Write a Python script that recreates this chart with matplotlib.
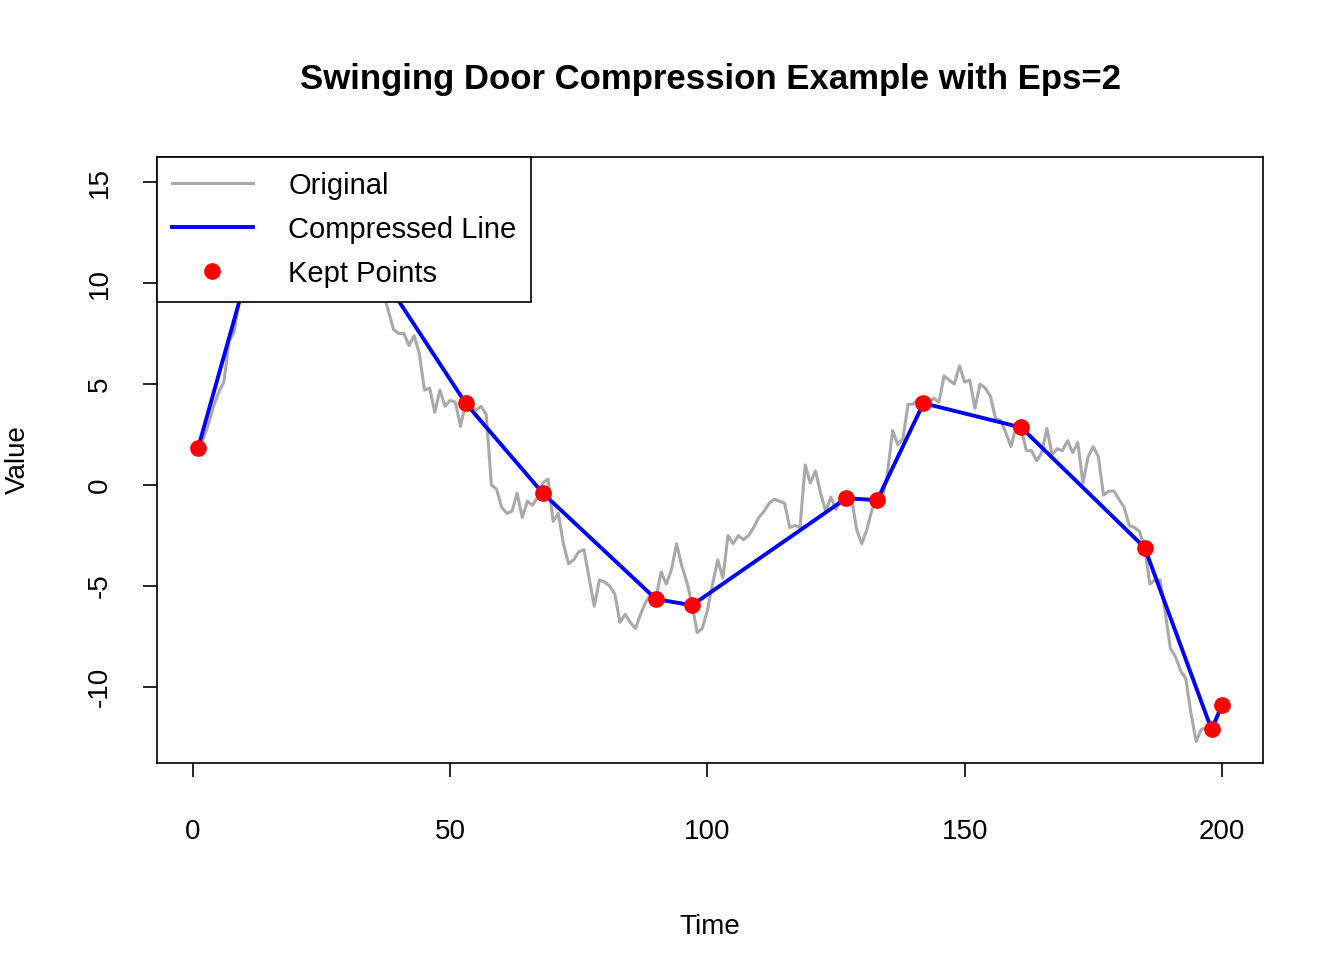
import matplotlib
matplotlib.use('Agg')
import matplotlib.pyplot as plt
import numpy as np

plt.rcParams['font.family'] = ['Liberation Sans', 'DejaVu Sans']
plt.rcParams['axes.unicode_minus'] = False

time = np.arange(1, 201)
original = [
    1.85, 2.3, 3.0, 3.9, 4.6, 5.1, 7.1, 7.6, 9.2,
    10.0, 10.9, 11.8, 12.3, 12.8, 13.2, 13.5, 13.9, 14.2, 14.0,
    14.3, 13.8, 14.1, 13.6, 13.9, 13.4, 13.6, 13.2, 13.5, 13.1,
    13.0, 12.6, 12.2, 11.8, 11.3, 10.8, 10.2, 9.5, 8.6,
    7.7, 7.5, 7.5, 6.9, 7.4, 6.5, 4.7, 4.8, 3.6, 4.7, 3.9, 4.2, 4.1, 2.9,
    4.1, 4.0, 3.7, 3.9, 3.5, 0.0, -0.2, -1.1, -1.4, -1.3, -0.4, -1.6, -0.8,
    -1.0, -0.6, 0.1, 0.3, -1.8, -1.4, -2.9, -3.9, -3.7, -3.3, -3.2, -4.6,
    -6.0, -4.7, -4.8, -5.0, -5.4, -6.8, -6.4, -6.8, -7.1, -6.4, -5.8, -5.4,
    -5.6, -4.3, -4.9, -4.2, -2.9, -4.0, -4.8, -5.9, -7.3, -7.1, -6.2, -4.9,
    -3.7, -4.6, -2.5, -2.9, -2.5, -2.7, -2.5, -2.1, -1.6, -1.3, -0.9, -0.7,
    -0.8, -0.9, -2.1, -2.0, -2.1, 1.0, 0.1, 0.7, -0.4, -1.3, -0.6, -1.2,
    -0.6, -0.6, -0.6, -2.2, -2.9, -2.2, -1.2, -0.8, -0.7, 0.6, 2.7, 2.0,
    2.3, 4.0, 4.0, 4.3, 4.1, 4.1, 4.3, 4.1, 5.4, 5.2, 5.0, 5.9, 5.1, 5.2,
    3.8, 5.0, 4.8, 4.4, 3.3, 3.2, 2.6, 1.9, 2.9, 2.8, 1.7, 1.7, 1.2, 1.6,
    2.8, 1.5, 1.8, 1.7, 2.2, 1.6, 2.1, 0.1, 1.4, 1.9, 1.4, -0.5, -0.3,
    -0.3, -0.7, -1.1, -2.0, -2.1, -2.3, -3.1, -4.9, -4.7, -4.7, -6.3, -8.1,
    -8.5, -9.2, -9.6, -11.3, -12.7, -12.1, -12.0, -12.1, -11.6, -10.9,
]
kept_t = [1, 12, 30, 53, 68, 90, 97, 127, 133, 142, 161, 185, 198, 200]
kept_v = [1.85, 11.8, 13.0, 4.05, -0.4, -5.65, -5.95, -0.65, -0.75, 4.05,
          2.85, -3.1, -12.1, -10.9]

fig = plt.figure(figsize=(13.44, 9.6), dpi=100)
ax = fig.add_axes([157 / 1344, 1 - 763 / 960, 1106 / 1344, 606 / 960])

ax.plot(time, original, color='#a9a9a9', lw=2.2, label='Original')
ax.plot(kept_t, kept_v, color='#0000ff', lw=2.8, label='Compressed Line')
ax.plot(kept_t, kept_v, 'o', color='#ff0000', ms=11, ls='none',
        label='Kept Points')

ax.set_xlim(-7.0, 208.0)
ax.set_ylim(-13.76, 16.24)
ax.set_xticks([0, 50, 100, 150, 200])
ax.set_yticks([-10, -5, 0, 5, 10, 15])
ax.tick_params(labelsize=20, length=10, width=1.2)
ax.tick_params(axis='x', pad=30)
ax.tick_params(axis='y', pad=22)
for lab in ax.get_yticklabels():
    lab.set_rotation(90)
    lab.set_va('center')
for s in ax.spines.values():
    s.set_linewidth(1.2)

ax.set_xlabel('Time', fontsize=20, labelpad=50)
ax.set_ylabel('Value', fontsize=20, labelpad=40)
fig.suptitle('Swinging Door Compression Example with Eps=2', fontsize=25,
             fontweight='bold', x=(157 + 1263) / 2 / 1344, y=1 - 80 / 960,
             va='center')

leg = ax.legend(loc='upper left', fontsize=21, frameon=True, fancybox=False,
                edgecolor='black', framealpha=1, borderaxespad=0,
                handlelength=2.8, borderpad=0.5, labelspacing=0.55,
                handletextpad=1.2)
leg.get_frame().set_linewidth(1.2)

fig.savefig('out.png', dpi=100)
